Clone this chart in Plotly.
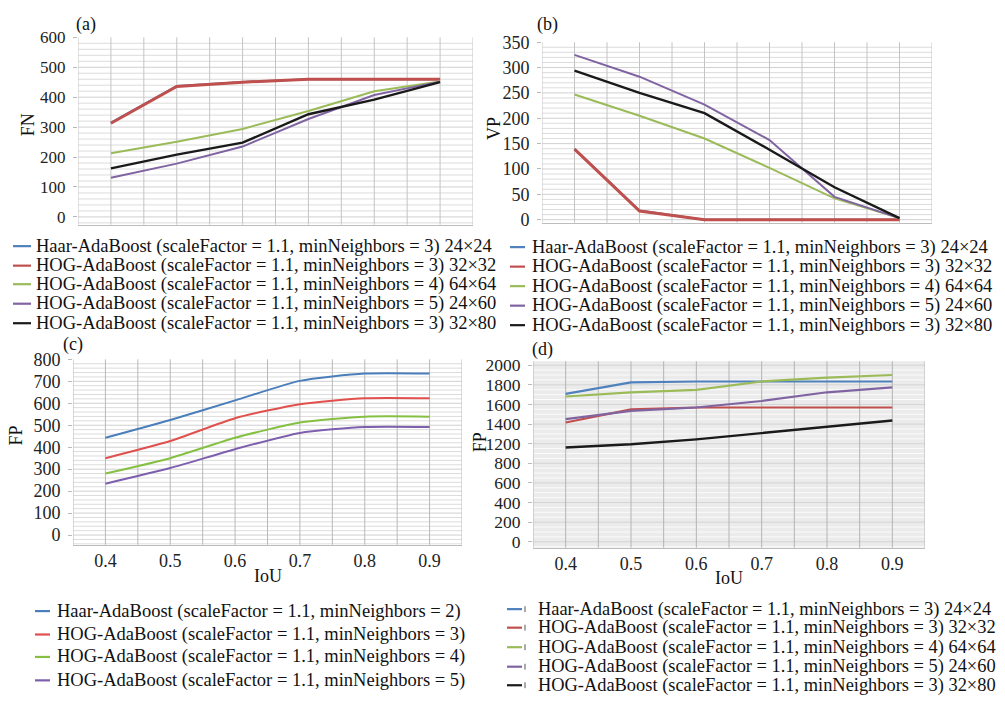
import plotly.graph_objects as go

W, H = 1005, 702

# ---------------- data ----------------
iou = [0.4, 0.5, 0.6, 0.7, 0.8, 0.9]

names5 = [
    "Haar-AdaBoost (scaleFactor = 1.1, minNeighbors = 3) 24×24",
    "HOG-AdaBoost (scaleFactor = 1.1, minNeighbors = 3) 32×32",
    "HOG-AdaBoost (scaleFactor = 1.1, minNeighbors = 4) 64×64",
    "HOG-AdaBoost (scaleFactor = 1.1, minNeighbors = 5) 24×60",
    "HOG-AdaBoost (scaleFactor = 1.1, minNeighbors = 3) 32×80",
]
names4 = [
    "Haar-AdaBoost (scaleFactor = 1.1, minNeighbors = 2)",
    "HOG-AdaBoost (scaleFactor = 1.1, minNeighbors = 3)",
    "HOG-AdaBoost (scaleFactor = 1.1, minNeighbors = 4)",
    "HOG-AdaBoost (scaleFactor = 1.1, minNeighbors = 5)",
]

# (a) FN
fn_haar_24x24 = [315, 437, 451, 460, 460, 460]
fn_hog_32x32 = [313, 436, 450, 460, 460, 460]
fn_hog_64x64 = [213, 251, 294, 354, 420, 452]
fn_hog_24x60 = [131, 178, 235, 327, 407, 452]
fn_hog_32x80 = [162, 208, 248, 343, 392, 450]

# (b) VP
vp_haar_24x24 = [140, 18, 0, 0, 0, 0]
vp_hog_32x32 = [139, 17, 0, 0, 0, 0]
vp_hog_64x64 = [247, 205, 160, 102, 42, 3]
vp_hog_24x60 = [325, 282, 227, 157, 45, 3]
vp_hog_32x80 = [294, 250, 210, 138, 64, 3]

# (c) FP
fpc_haar_mn2 = [443, 524, 613, 702, 735, 735]
fpc_hog_mn3 = [350, 428, 532, 596, 623, 623]
fpc_hog_mn4 = [280, 350, 443, 512, 539, 539]
fpc_hog_mn5 = [234, 305, 391, 465, 492, 492]

# (d) FP
fpd_haar_24x24 = [1708, 1824, 1834, 1834, 1834, 1834]
fpd_hog_32x32 = [1416, 1549, 1569, 1569, 1569, 1569]
fpd_hog_64x64 = [1681, 1724, 1748, 1834, 1874, 1900]
fpd_hog_24x60 = [1450, 1535, 1569, 1635, 1724, 1774]
fpd_hog_32x80 = [1161, 1194, 1244, 1310, 1376, 1436]

x_ticklabels = ["0.4", "0.5", "0.6", "0.7", "0.8", "0.9"]
d_tickvals = [200, 400, 600, 800, 1000, 1200, 1400, 1600, 1800, 2000]
d_ticktext = ["0", "200", "400", "600", "800", "1200", "1400", "1600", "1800", "2000"]

# ---------------- styling ----------------
colors5 = ["#4f81bd", "#c0504d", "#9bbb59", "#8064a2", "#1a1a1a"]
colors4 = ["#4a7ebb", "#e0504c", "#86c043", "#7d5fae"]
FONT = "Liberation Serif"
X_RANGE = [0.35, 0.95]


def fx(p):
    return p / W


def fy(p):
    return 1 - p / H


fig = go.Figure()

panels = [
    ("", [fn_haar_24x24, fn_hog_32x32, fn_hog_64x64, fn_hog_24x60, fn_hog_32x80], colors5, names5,
     [2, 3, 2, 2, 2.4], "linear"),
    ("2", [vp_haar_24x24, vp_hog_32x32, vp_hog_64x64, vp_hog_24x60, vp_hog_32x80], colors5, names5,
     [2, 3, 2, 2, 2.4], "linear"),
    ("3", [fpc_haar_mn2, fpc_hog_mn3, fpc_hog_mn4, fpc_hog_mn5], colors4, names4,
     [2, 2, 2, 2], "spline"),
    ("4", [fpd_haar_24x24, fpd_hog_32x32, fpd_hog_64x64, fpd_hog_24x60, fpd_hog_32x80], colors5, names5,
     [2.2, 2.2, 2.2, 2.2, 2.4], "linear"),
]

for suf, series, cols, nms, widths, shape in panels:
    for vals, c, n, w in zip(series, cols, nms, widths):
        line = dict(color=c, width=w, shape=shape)
        if shape == "spline":
            line["smoothing"] = 0.6
        fig.add_trace(go.Scatter(
            x=iou, y=vals, mode="lines", name=n, showlegend=False,
            line=line, xaxis="x" + suf, yaxis="y" + suf,
        ))


# ---------------- axes ----------------
def xaxis(dom, anchor, showlabels):
    return dict(
        domain=[fx(dom[0]), fx(dom[1])], anchor=anchor, range=X_RANGE,
        tickmode="array", tickvals=iou, ticktext=x_ticklabels,
        showticklabels=showlabels, ticks="",
        tickfont=dict(family=FONT, size=18, color="#222"),
        showgrid=False,
        showline=True, linecolor="#bdbdbd", linewidth=1,
        zeroline=False, fixedrange=True,
    )


def yaxis(dom, anchor, rng, dtick, size=18, tickvals=None, ticktext=None):
    d = dict(
        domain=[fy(dom[1]), fy(dom[0])], anchor=anchor, range=rng,
        tickfont=dict(family=FONT, size=size, color="#222"),
        ticks="outside", ticklen=4, tickcolor="#bbbbbb",
        showgrid=False, showline=False,
        zeroline=False, fixedrange=True, ticklabelstandoff=4,
    )
    if tickvals is not None:
        d.update(tickmode="array", tickvals=tickvals, ticktext=ticktext)
    else:
        d.update(tickmode="linear", tick0=0, dtick=dtick)
    return d


Y_RANGES = {"": [-26, 600], "2": [-6, 350], "3": [-44, 800], "4": [140, 2040]}

fig.update_layout(
    width=W, height=H,
    margin=dict(l=0, r=0, t=0, b=0),
    paper_bgcolor="white", plot_bgcolor="white",
    showlegend=False,
    font=dict(family=FONT, color="#111"),
    xaxis=xaxis((78, 473), "y", False),
    yaxis=yaxis((28, 220), "x", Y_RANGES[""], 100, size=17),
    xaxis2=xaxis((542, 932), "y2", False),
    yaxis2=yaxis((33, 218), "x2", Y_RANGES["2"], 50),
    xaxis3=xaxis((73, 462), "y3", True),
    yaxis3=yaxis((358, 548), "x3", Y_RANGES["3"], 100),
    xaxis4=xaxis((533, 925), "y4", True),
    yaxis4=yaxis((360, 551), "x4", Y_RANGES["4"], 200, size=17.5,
                 tickvals=d_tickvals, ticktext=d_ticktext),
)

shapes = []
# grey background for panel (d)
shapes.append(dict(type="rect", xref="x4 domain", yref="y4 domain", x0=0, x1=1, y0=0, y1=1,
                   fillcolor="#ebebeb", line=dict(width=0), layer="below"))

# dense horizontal grid (Excel-like minor grid), then vertical grid on top of it
hgrid_spec = {"": (20, "#dcdcdc", 100, "#d0d0d0"),
              "2": (10, "#dcdcdc", 50, "#d0d0d0"),
              "3": (20, "#dcdcdc", 100, "#d0d0d0"),
              "4": (50, "#fbfbfb", 200, "#d4d4d4")}
for suf, (step, col, major, mcol) in hgrid_spec.items():
    lo, hi = Y_RANGES[suf]
    v = (lo // step + 1) * step
    while v < hi:
        shapes.append(dict(type="line", xref="x" + suf + " domain", yref="y" + suf,
                           x0=0, x1=1, y0=v, y1=v,
                           line=dict(color=mcol if v % major == 0 else col, width=1), layer="below"))
        v += step

vgrid = [round(X_RANGE[0] + 0.05 * i, 2) for i in range(13)]
for suf, col in [("", "#c4c4c4"), ("2", "#c4c4c4"), ("3", "#b8b8b8"), ("4", "#b4b4b4")]:
    for v in vgrid:
        shapes.append(dict(type="line", xref="x" + suf, yref="y" + suf + " domain", x0=v, x1=v, y0=0, y1=1,
                           line=dict(color=col, width=1), layer="below"))

annotations = []


def text_ann(x, y, t, size=18, angle=0, xanchor="center"):
    annotations.append(dict(x=fx(x), y=fy(y), xref="paper", yref="paper", text=t, showarrow=False,
                            xanchor=xanchor, yanchor="middle", textangle=angle, align="left",
                            borderpad=0,
                            font=dict(family=FONT, size=size, color="#111")))


# panel labels
text_ann(86, 15, "(a)")
text_ann(547, 15, "(b)")
text_ann(73, 343, "(c)")
text_ann(542, 348, "(d)")
# axis titles
text_ann(28, 118, "FN", angle=-90)
text_ann(494, 122, "VP", angle=-90)
text_ann(16, 436, "FP", angle=-90)
text_ann(480, 443, "FP", angle=-90)
text_ann(268, 580, "IoU")
text_ann(729, 582, "IoU")


# legends (key lines + text)
def legend_block(nms, cols, x_line0, x_line1, x_text, ys, size=18.5, tickmark=False):
    for n, c, yy in zip(nms, cols, ys):
        shapes.append(dict(type="line", xref="paper", yref="paper", x0=fx(x_line0), x1=fx(x_line1),
                           y0=fy(yy), y1=fy(yy), line=dict(color=c, width=2.2)))
        if tickmark:
            shapes.append(dict(type="line", xref="paper", yref="paper", x0=fx(x_line1 + 3), x1=fx(x_line1 + 3),
                               y0=fy(yy - 3), y1=fy(yy + 3), line=dict(color="#555", width=1)))
        text_ann(x_text, yy, n, size=size, xanchor="left")


legend_block(names5, colors5, 13, 31, 35, [242, 262, 281, 301, 321])
legend_block(names5, colors5, 510, 525, 531, [243, 263, 283, 303, 323])
legend_block(names4, colors4, 35, 50, 56, [616, 640, 663, 687])
legend_block(names5, colors5, 507, 522, 537, [614, 633, 653, 673, 692], size=18.4, tickmark=True)

fig.update_layout(shapes=shapes, annotations=annotations)

# drop the browser's default 8px page margin so the figure sits at the window origin
fig.write_html("out.html", config={"displayModeBar": False},
               post_script="document.body.style.margin='0px';")
